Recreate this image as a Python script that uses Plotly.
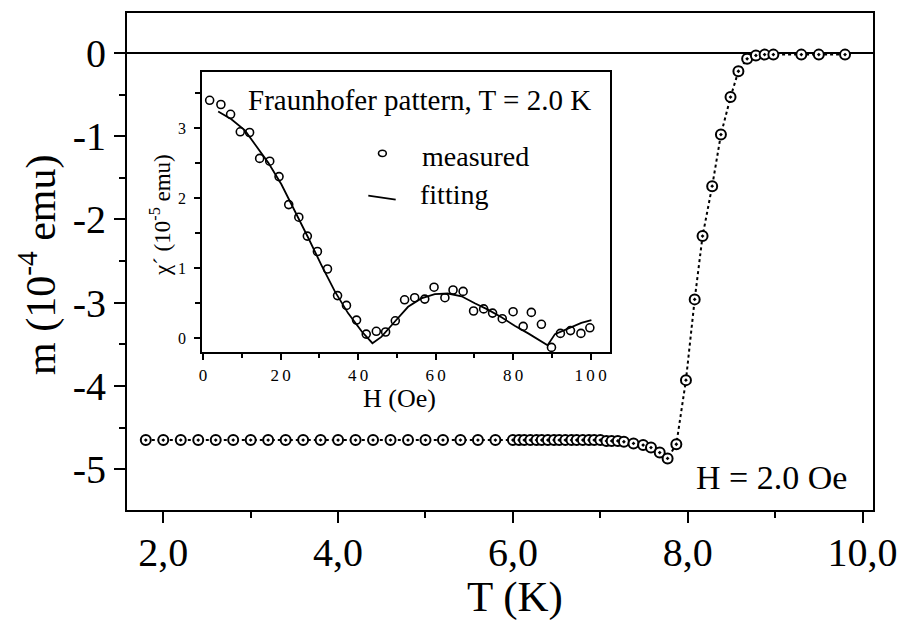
import plotly.graph_objects as go

# ---------------- data: main panel (m vs T) ----------------
T_K = [1.8, 2.0, 2.2, 2.4, 2.6, 2.8, 3.0, 3.2, 3.4, 3.6, 3.8, 4.0, 4.2, 4.4, 4.6, 4.8,
       5.0, 5.2, 5.4, 5.6, 5.8,
       6.00, 6.07, 6.13, 6.20, 6.27, 6.33, 6.40, 6.47, 6.53, 6.60, 6.67, 6.73, 6.80,
       6.87, 6.93, 7.00, 7.07, 7.13, 7.20,
       7.27, 7.38, 7.49, 7.58, 7.68, 7.77, 7.87, 7.98, 8.08, 8.17, 8.28, 8.38, 8.49,
       8.58, 8.68, 8.78, 8.88, 8.98, 9.30, 9.50, 9.80]
m_emu = [-4.65, -4.65, -4.65, -4.65, -4.65, -4.65, -4.65, -4.65, -4.65, -4.65, -4.65,
         -4.65, -4.65, -4.65, -4.65, -4.65, -4.65, -4.65, -4.65, -4.65, -4.65,
         -4.65, -4.65, -4.65, -4.65, -4.65, -4.65, -4.65, -4.65, -4.65, -4.65, -4.65,
         -4.65, -4.65, -4.65, -4.65, -4.65, -4.66, -4.66, -4.66,
         -4.67, -4.69, -4.71, -4.74, -4.80, -4.87, -4.70, -3.93, -2.96, -2.20, -1.60,
         -0.98, -0.53, -0.22, -0.07, -0.03, -0.02, -0.02, -0.02, -0.02, -0.02]

x_tickvals = [2, 4, 6, 8, 10]
x_ticktext = ["2,0", "4,0", "6,0", "8,0", "10,0"]
y_tickvals = [0, -1, -2, -3, -4, -5]
y_ticktext = ["0", "-1", "-2", "-3", "-4", "-5"]

# ---------------- data: inset (Fraunhofer pattern) ----------------
H_meas = [1.7, 4.6, 7.1, 9.6, 12.0, 14.6, 17.2, 19.6, 22.1, 24.7, 26.9, 29.5, 32.1,
          34.7, 37.0, 39.6, 42.1, 44.7, 47.1, 49.6, 52.0, 54.6, 57.2, 59.6, 62.4,
          64.5, 67.1, 69.8, 72.4, 74.7, 77.2, 80.0, 82.6, 84.7, 87.3, 89.9, 92.2,
          94.8, 97.5, 99.8]
chi_meas = [3.40, 3.34, 3.20, 2.95, 2.94, 2.57, 2.53, 2.31, 1.91, 1.73, 1.46, 1.24,
            0.99, 0.61, 0.47, 0.26, 0.06, 0.10, 0.09, 0.25, 0.55, 0.58, 0.56, 0.73,
            0.58, 0.69, 0.67, 0.39, 0.42, 0.36, 0.28, 0.38, 0.17, 0.37, 0.20, -0.13,
            0.07, 0.11, 0.07, 0.15]
H_fit = [3.9, 7.3, 10.8, 13.3, 16.8, 20.2, 23.7, 27.1, 30.5, 34.0, 37.4, 40.9, 43.7,
         46.0, 49.5, 52.9, 56.3, 59.8, 63.2, 66.7, 70.1, 73.5, 77.0, 80.4, 83.9, 87.3,
         88.9, 90.8, 94.2, 97.6, 100.2]
chi_fit = [3.24, 3.13, 2.97, 2.78, 2.51, 2.20, 1.82, 1.44, 1.05, 0.67, 0.36, 0.10,
           -0.07, 0.02, 0.24, 0.45, 0.57, 0.63, 0.64, 0.60, 0.50, 0.41, 0.30, 0.18,
           0.07, -0.04, -0.10, 0.06, 0.14, 0.22, 0.26]

inset_xtickvals = [0, 20, 40, 60, 80, 100]
inset_xticktext = ["0", "2\u20090", "4\u20090", "6\u20090", "8\u20090", "1\u20090\u20090"]
inset_ytickvals = [0, 1, 2, 3]

# ---------------- geometry helpers ----------------
W, Hh = 901, 622
L, R, TOP, BOT = 127, 28, 13, 112
PW, PH = W - L - R, Hh - TOP - BOT


def px(x):
    return (x - L) / PW


def py(y):
    return (Hh - BOT - y) / PH


FONT = "Liberation Serif, Times New Roman, serif"

fig = go.Figure()

fig.add_trace(go.Scatter(
    x=T_K, y=m_emu, mode="lines+markers",
    line=dict(color="black", width=2, dash="dot"),
    marker=dict(symbol="circle-dot", size=10, color="white",
                line=dict(color="black", width=2)),
    xaxis="x", yaxis="y", showlegend=False, cliponaxis=False))

fig.add_trace(go.Scatter(
    x=H_fit, y=chi_fit, mode="lines",
    line=dict(color="black", width=1.8),
    xaxis="x2", yaxis="y2", showlegend=False))

fig.add_trace(go.Scatter(
    x=H_meas, y=chi_meas, mode="markers",
    marker=dict(symbol="circle-open", size=8, color="black",
                line=dict(color="black", width=1.6)),
    xaxis="x2", yaxis="y2", showlegend=False))

axis_common = dict(showgrid=False, showline=True, linecolor="black", linewidth=2,
                   mirror=True, ticks="outside", tickcolor="black")

fig.update_layout(
    width=W, height=Hh,
    margin=dict(l=L, r=R, t=TOP, b=BOT, autoexpand=False),
    paper_bgcolor="white", plot_bgcolor="white",
    font=dict(family=FONT, color="black"),
    xaxis=dict(**axis_common, range=[1.585, 10.12], tickmode="array",
               tickvals=x_tickvals, ticktext=x_ticktext, ticklen=11, tickwidth=2,
               ticklabelstandoff=-5,
               tickfont=dict(size=40, family=FONT),
               minor=dict(tickvals=[3, 5, 7, 9], ticklen=6, tickwidth=2,
                          ticks="outside", tickcolor="black"),
               zeroline=False, domain=[0, 1], automargin=False),
    yaxis=dict(**axis_common, range=[-5.49, 0.48], tickmode="array",
               tickvals=y_tickvals, ticktext=y_ticktext, ticklen=11, tickwidth=2,
               tickfont=dict(size=40, family=FONT),
               minor=dict(tickvals=[-0.5, -1.5, -2.5, -3.5, -4.5], ticklen=6,
                          tickwidth=2, ticks="outside", tickcolor="black"),
               zeroline=True, zerolinecolor="black", zerolinewidth=2, domain=[0, 1],
               automargin=False),
    xaxis2=dict(**axis_common, range=[-0.2, 105], tickmode="array",
                tickvals=inset_xtickvals, ticktext=inset_xticktext,
                ticklen=6, tickwidth=1.5,
                tickfont=dict(size=17, family=FONT),
                minor=dict(tickvals=[10, 30, 50, 70, 90], ticklen=4, tickwidth=1.5,
                           ticks="outside", tickcolor="black"),
                zeroline=False, anchor="y2", automargin=False,
                domain=[px(202.3), px(610)]),
    yaxis2=dict(**axis_common, range=[-0.2, 3.8], tickmode="array",
                tickvals=inset_ytickvals, ticklen=6, tickwidth=1.5,
                ticklabelstandoff=5,
                tickfont=dict(size=16, family=FONT),
                minor=dict(tickvals=[0.5, 1.5, 2.5, 3.5], ticklen=5, tickwidth=1.5,
                           ticks="outside", tickcolor="black"),
                zeroline=False, anchor="x2", automargin=False,
                domain=[py(352.3), py(72.3)]),
)

ann = []


def add_text(text, x, y, size, xanchor="center", yanchor="middle", angle=0):
    ann.append(dict(text=text, x=px(x), y=py(y), xref="paper", yref="paper",
                    xanchor=xanchor, yanchor=yanchor, showarrow=False,
                    textangle=angle, font=dict(size=size, family=FONT, color="black")))


add_text("T (K)", 515, 597, 43)
add_text("m (10<sup>-4</sup> emu)", 38, 265, 42, angle=-90)
add_text("H = 2.0 Oe", 849, 477, 34, xanchor="right")
add_text("H (Oe)", 399, 398, 26)
add_text("χ´ (10<sup>-5</sup> emu)", 160, 215, 23, angle=-90)
add_text("Fraunhofer pattern, T = 2.0 K", 246, 100, 29, xanchor="left")
add_text("measured", 420, 156, 28, xanchor="left")
add_text("fitting", 418, 194, 28, xanchor="left")

fig.update_layout(annotations=ann)

fig.add_shape(type="circle", xref="paper", yref="paper",
              x0=px(378.5), x1=px(386.3), y0=py(156.5), y1=py(150.3),
              line=dict(color="black", width=1.6))
fig.add_shape(type="line", xref="paper", yref="paper",
              x0=px(368.3), y0=py(195.7), x1=px(395.7), y1=py(199.7),
              line=dict(color="black", width=1.8))

fig.write_html(
    "out.html",
    config={"displayModeBar": False},
    post_script="document.body.style.margin='0';"
                "document.body.style.overflow='hidden';",
)
